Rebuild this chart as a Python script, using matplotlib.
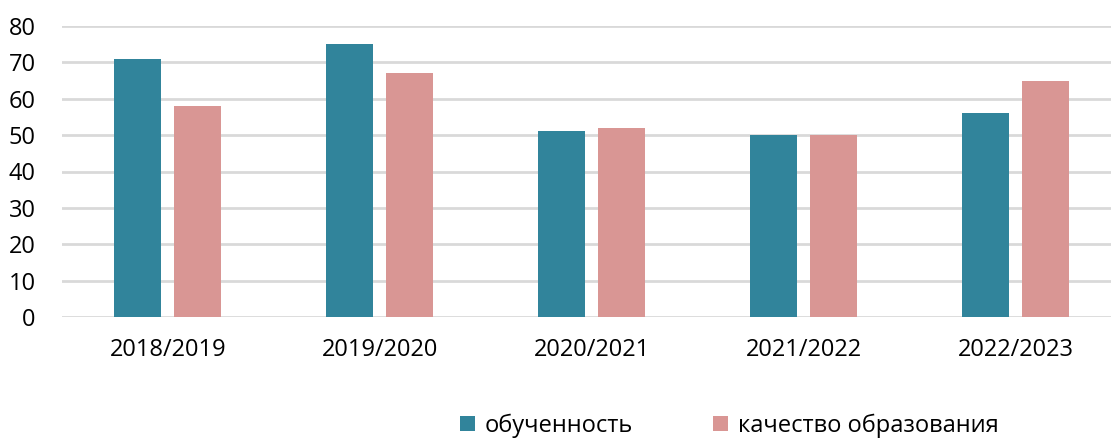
import numpy as np
import matplotlib.pyplot as plt

plt.rcParams['font.family'] = ['Open Sans', 'DejaVu Sans']

years = ['2018/2019', '2019/2020', '2020/2021', '2021/2022', '2022/2023']
obuchennost = [71, 75, 51, 50, 56]
kachestvo = [58, 67, 52, 50, 65]
series_names = ['обученность', 'качество образования']

W, H = 1111, 438
fig = plt.figure(figsize=(W / 100, H / 100), dpi=100)
# plot area runs past the right edge, like the cropped original
left, right = 62, 1122
bottom, top = 317, 26
ax = fig.add_axes([left / W, 1 - bottom / H, (right - left) / W, (bottom - top) / H])

x = np.arange(len(years))
w = 0.222
ax.bar(x - 0.143, obuchennost, w, color='#31849B', label=series_names[0], zorder=3)
ax.bar(x + 0.140, kachestvo, w, color='#D99694', label=series_names[1], zorder=3)

ax.set_xlim(-0.5, len(years) - 0.5)
ax.set_ylim(0, 80)
ax.set_yticks(range(0, 81, 10))
ax.set_xticks(x)
ax.set_xticklabels(years)
ax.yaxis.grid(True, color='#D9D9D9', linewidth=2)
ax.set_axisbelow(True)
for s in ax.spines.values():
    s.set_visible(False)
ax.tick_params(length=0, labelsize=17, colors='#000000')
ax.tick_params(axis='y', pad=19)
ax.tick_params(axis='x', pad=15)

fig.legend(loc='lower center', bbox_to_anchor=(729 / W, -0.048), ncol=2,
           frameon=False, fontsize=17, handlelength=0.65, handleheight=0.65,
           handletextpad=0.4, columnspacing=3.4)

fig.savefig('out.png', dpi=100)
